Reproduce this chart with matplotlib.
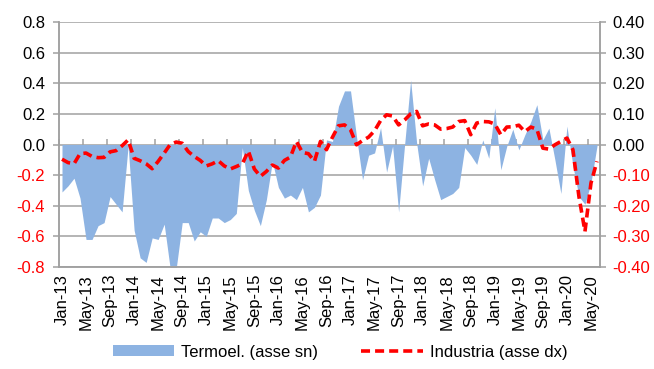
import numpy as np
import pandas as pd
import matplotlib
matplotlib.use('Agg')
import matplotlib.pyplot as plt
from matplotlib.patches import Patch
from matplotlib.lines import Line2D

plt.rcParams['font.family'] = ['Liberation Sans', 'DejaVu Sans']

# Monthly series, Jan-13 .. Jun-20
months = pd.date_range('2013-01-01', periods=90, freq='MS')
month_labels = [d.strftime('%b-%y') for d in months]

# Termoelettrico (left axis)
termoel = [
    -0.31, -0.27, -0.22, -0.35, -0.62, -0.62, -0.53, -0.51, -0.34, -0.39,
    -0.44, -0.01, -0.56, -0.74, -0.77, -0.61, -0.62, -0.52, -0.81, -0.81,
    -0.51, -0.51, -0.63, -0.57, -0.60, -0.48, -0.48, -0.51, -0.49, -0.45,
    -0.02, -0.30, -0.43, -0.53, -0.36, -0.11, -0.28, -0.35, -0.33, -0.36,
    -0.28, -0.44, -0.41, -0.33, 0.03, 0.02, 0.25, 0.35, 0.35, 0.05,
    -0.23, -0.07, -0.055, 0.11, -0.18, -0.01, -0.44, 0.0, 0.42, 0.01,
    -0.27, -0.09, -0.23, -0.36, -0.34, -0.32, -0.28, -0.02, -0.07, -0.13,
    0.03, -0.09, 0.24, -0.165, -0.01, 0.10, -0.035, 0.063, 0.15, 0.26,
    0.03, 0.107, -0.10, -0.32, 0.12, -0.14, -0.34, -0.39, -0.25, -0.01,
]

# Industria (right axis)
industria = [
    -0.048, -0.059, -0.063, -0.030, -0.028, -0.039, -0.043, -0.042, -0.024, -0.020,
    -0.004, 0.015, -0.045, -0.053, -0.063, -0.079, -0.055, -0.028, 0.000, 0.008,
    0.004, -0.023, -0.039, -0.052, -0.070, -0.063, -0.053, -0.070, -0.080, -0.072,
    -0.063, -0.021, -0.080, -0.104, -0.088, -0.067, -0.077, -0.052, -0.041, 0.010,
    -0.026, -0.030, -0.055, 0.010, -0.017, 0.024, 0.061, 0.064, 0.048, -0.001,
    0.013, 0.024, 0.045, 0.078, 0.097, 0.093, 0.064, 0.080, 0.100, 0.108,
    0.061, 0.067, 0.064, 0.050, 0.052, 0.057, 0.075, 0.078, 0.032, 0.070,
    0.075, 0.074, 0.067, 0.032, 0.057, 0.058, 0.063, 0.042, 0.057, 0.050,
    -0.012, -0.015, -0.001, 0.010, 0.021, -0.017, -0.170, -0.284, -0.126, -0.055,
]

left_ticks = [-0.8, -0.6, -0.4, -0.2, 0.0, 0.2, 0.4, 0.6, 0.8]
right_ticks = [-0.4, -0.3, -0.2, -0.1, 0.0, 0.1, 0.2, 0.3, 0.4]

blue = '#8DB3E2'
grey = '#A0A0A0'
dash = (0, (2.5, 1.4))

x = np.arange(len(months))

fig = plt.figure(figsize=(6.54, 3.69), dpi=100)
ax = fig.add_axes([0.0902, 0.2764, 0.8272, 0.664])
ax2 = ax.twinx()

ax.fill_between(x, 0, termoel, color=blue, linewidth=0, zorder=1)
ax2.plot(x, industria, color='red', linewidth=2.6, linestyle=dash, zorder=3)

ax.set_xlim(-0.5, len(months) - 0.5)
ax.set_ylim(-0.8, 0.8)
ax2.set_ylim(-0.4, 0.4)

ax.set_yticks(left_ticks)
ax2.set_yticks(right_ticks)
ax.set_yticklabels(['%.1f' % v for v in left_ticks])
ax2.set_yticklabels(['%.2f' % v for v in right_ticks])
for lbl, v in zip(ax.get_yticklabels(), left_ticks):
    lbl.set_color('red' if v < 0 else 'black')
for lbl, v in zip(ax2.get_yticklabels(), right_ticks):
    lbl.set_color('red' if v < 0 else 'black')

ax.set_axisbelow(True)
ax.grid(axis='y', color=grey, linewidth=1.1)

ax.set_xticks(x[::4])
ax.set_xticklabels(month_labels[::4], rotation=90)
ax.tick_params(axis='x', length=0, pad=5, labelsize=12)
ax.tick_params(axis='y', length=4, width=1.1, color=grey, labelsize=12, pad=6)
ax2.tick_params(axis='y', length=4, width=1.1, color=grey, labelsize=12, pad=5)

for a in (ax, ax2):
    for side in ('left', 'right', 'bottom'):
        a.spines[side].set_color(grey)
        a.spines[side].set_linewidth(1.1)
    a.spines['top'].set_visible(False)

# category axis crossing at zero, with tick marks between every fourth month
zero_axis = ax.secondary_xaxis(0.5)
zero_axis.set_xticks(np.arange(-0.5, len(months), 4))
zero_axis.tick_params(axis='x', direction='out', length=4, width=1.1, color=grey,
                      labelbottom=False, labeltop=False)
zero_axis.spines['bottom'].set_color(grey)
zero_axis.spines['bottom'].set_linewidth(1.1)
zero_axis.spines['top'].set_visible(False)

handles = [Patch(facecolor=blue, edgecolor='none'),
           Line2D([0], [0], color='red', linewidth=2.6, linestyle=dash)]
fig.legend(handles, ['Termoel. (asse sn)', 'Industria (asse dx)'],
           loc='lower center', bbox_to_anchor=(0.52, -0.015), ncol=2, frameon=False,
           fontsize=12, handlelength=3.7, handleheight=0.6, columnspacing=2.6,
           handletextpad=0.4)

fig.savefig('out.png', dpi=100)
